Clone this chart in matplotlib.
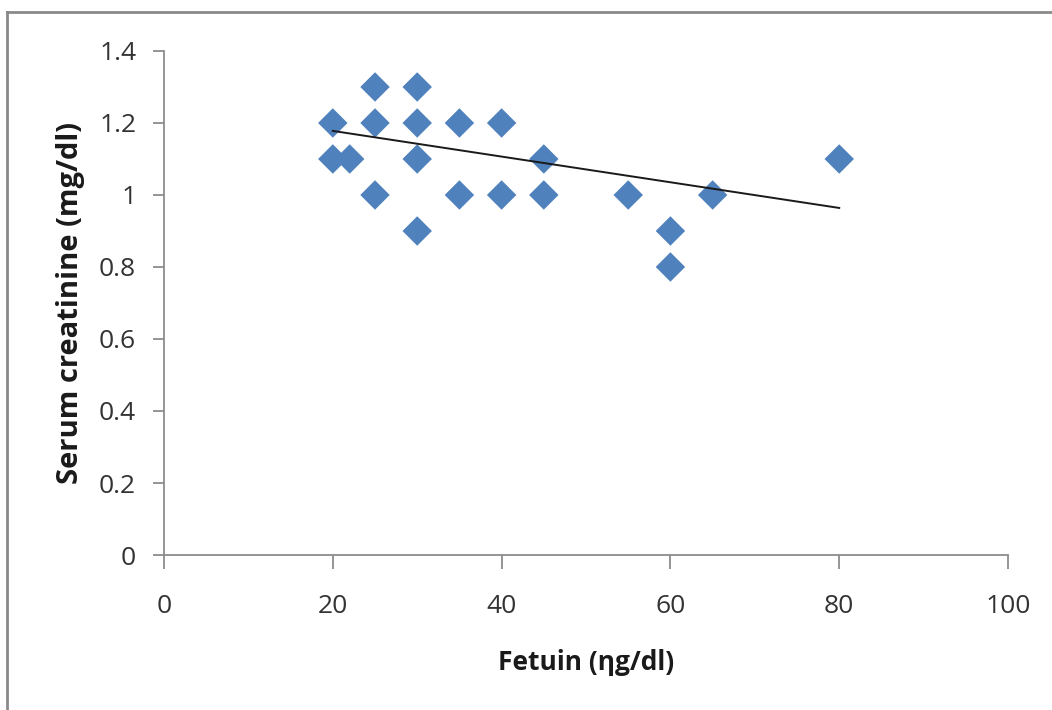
import matplotlib.pyplot as plt
from matplotlib.lines import Line2D

# Fetuin (ng/dl) vs serum creatinine (mg/dl)
fetuin = [20, 20, 22, 25, 25, 25, 30, 30, 30, 30, 35, 35, 40, 40, 45, 45, 55, 60, 60, 65, 80]
creatinine = [1.2, 1.1, 1.1, 1.3, 1.2, 1.0, 1.3, 1.2, 1.1, 0.9, 1.2, 1.0, 1.2, 1.0,
              1.1, 1.0, 1.0, 0.9, 0.8, 1.0, 1.1]

# linear trend line as drawn in the original (end points)
trend_x = [20, 80]
trend_y = [1.178, 0.964]

x_ticks = [0, 20, 40, 60, 80, 100]
y_ticks = [0, 0.2, 0.4, 0.6, 0.8, 1.0, 1.2, 1.4]
y_labels = ["0", "0.2", "0.4", "0.6", "0.8", "1", "1.2", "1.4"]

plt.rcParams['font.family'] = ['Open Sans', 'DejaVu Sans']

fig = plt.figure(figsize=(10.52, 7.10), dpi=100)
ax = fig.add_axes([0.1559, 0.2183, 0.8023, 0.7099])

ax.scatter(fetuin, creatinine, marker='D', s=15**2, color='#4F81BD', edgecolors='none', zorder=3)
ax.plot(trend_x, trend_y, color='#1a1a1a', lw=1.4, zorder=4)

ax.set_xlim(0, 100)
ax.set_ylim(0, 1.4)
ax.set_xticks(x_ticks)
ax.set_yticks(y_ticks)
ax.set_yticklabels(y_labels)

for s in ['top', 'right']:
    ax.spines[s].set_visible(False)
for s in ['left', 'bottom']:
    ax.spines[s].set_color('#8c8c8c')
    ax.spines[s].set_linewidth(1.3)
ax.tick_params(direction='out', width=1.3, color='#8c8c8c',
               labelsize=19, labelcolor='#333333')
ax.tick_params(axis='x', length=10, pad=18)
ax.tick_params(axis='y', length=8, pad=12)

ax.set_xlabel('Fetuin (ηg/dl)', fontsize=19, fontweight='bold', color='#1a1a1a', labelpad=22)
ax.set_ylabel('Serum creatinine (mg/dl)', fontsize=21, fontweight='bold', color='#1a1a1a', labelpad=10)

# outer frame (only top and left edges visible in the original)
fig.add_artist(Line2D([7 / 1052, 7 / 1052], [0, 1 - 12 / 710], transform=fig.transFigure,
                      color='#8a8a8a', lw=2))
fig.add_artist(Line2D([7 / 1052, 1], [1 - 12 / 710, 1 - 12 / 710], transform=fig.transFigure,
                      color='#8a8a8a', lw=2))

fig.savefig('out.png', dpi=100)
